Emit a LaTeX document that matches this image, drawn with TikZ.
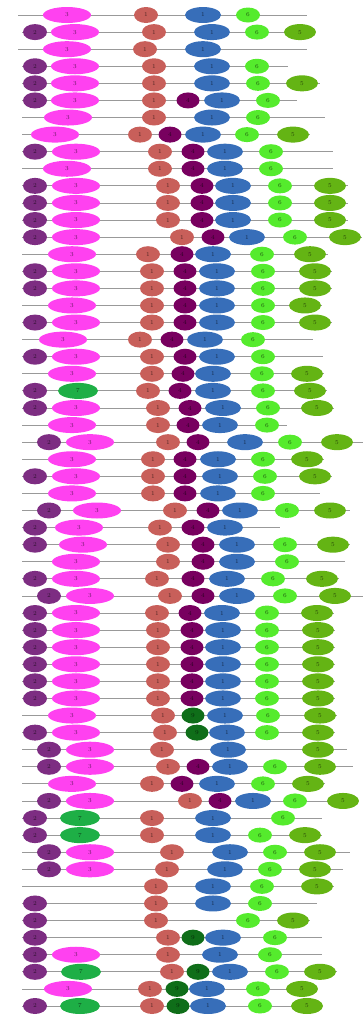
\documentclass[tikz,border=0pt]{standalone}
\usetikzlibrary{shapes.geometric}
\definecolor{cpur}{RGB}{125,45,130}
\definecolor{cmag}{RGB}{255,65,240}
\definecolor{csal}{RGB}{200,95,90}
\definecolor{cdpur}{RGB}{120,0,95}
\definecolor{cblu}{RGB}{55,110,185}
\definecolor{clgr}{RGB}{85,235,45}
\definecolor{coli}{RGB}{100,180,20}
\definecolor{cemer}{RGB}{30,175,70}
\definecolor{cdgr}{RGB}{15,110,25}
\begin{document}
\begin{tikzpicture}[x=1pt,y=-1pt,
    wire/.style={draw=gray!80,line width=0.8pt},
    digit/.style={font=\fontsize{6}{6}\selectfont,inner sep=0pt},
    bead/.style={ellipse,inner sep=0pt,minimum height=16pt},
    pur/.style={bead,fill=cpur,minimum width=24pt,label={[digit,text=cpur!40!black]center:2}},
    mag/.style={bead,fill=cmag,minimum width=48pt,label={[digit,text=cmag!40!black]center:3}},
    sal/.style={bead,fill=csal,minimum width=24pt,label={[digit,text=csal!40!black]center:1}},
    dpur/.style={bead,fill=cdpur,minimum width=23pt,label={[digit,text=cdpur!40!black]center:4}},
    blu/.style={bead,fill=cblu,minimum width=36pt,label={[digit,text=cblu!40!black]center:1}},
    lgr/.style={bead,fill=clgr,minimum width=24pt,minimum height=15pt,label={[digit,text=clgr!40!black]center:6}},
    oli/.style={bead,fill=coli,minimum width=32pt,label={[digit,text=coli!40!black]center:5}},
    emer/.style={bead,fill=cemer,minimum width=40pt,label={[digit,text=cemer!40!black]center:7}},
    dgr/.style={bead,fill=cdgr,minimum width=23pt,label={[digit,text=cdgr!40!black]center:9}}]
  \useasboundingbox (0,0) rectangle (364,1018);

  % ROWS: line start / line end / beads
  \foreach \xs/\xe/\beads [count=\i] in {
    18/307/{mag/67,sal/146,blu/203,lgr/248},
    22/315/{pur/35,mag/75,sal/154,blu/212,lgr/257,oli/300},
    18/307/{mag/67,sal/145,blu/203},
    22/288/{pur/35,mag/75,sal/154,blu/212,lgr/257},
    22/320/{pur/35,mag/75,sal/154,blu/212,lgr/258,oli/302},
    22/297/{pur/35,mag/75,sal/154,dpur/188,blu/222,lgr/268},
    22/325/{mag/68,sal/154,blu/212,lgr/258},
    22/310/{mag/55,sal/140,dpur/170,blu/203,lgr/247,oli/293},
    22/333/{pur/35,mag/76,sal/160,dpur/193,blu/225,lgr/271},
    22/333/{mag/67,sal/160,dpur/193,blu/225,lgr/271},
    22/348/{pur/35,mag/76,sal/168,dpur/202,blu/233,lgr/280,oli/330},
    22/348/{pur/35,mag/76,sal/168,dpur/202,blu/233,lgr/280,oli/330},
    22/348/{pur/35,mag/76,sal/168,dpur/202,blu/233,lgr/280,oli/330},
    22/362/{pur/35,mag/76,sal/182,dpur/213,blu/247,lgr/295,oli/345},
    22/328/{mag/72,sal/148,dpur/182,blu/213,lgr/262,oli/310},
    22/332/{pur/35,mag/76,sal/152,dpur/185,blu/217,lgr/263,oli/315},
    22/332/{pur/35,mag/76,sal/152,dpur/185,blu/217,lgr/263,oli/315},
    22/322/{mag/72,sal/152,dpur/185,blu/217,lgr/263,oli/305},
    22/332/{pur/35,mag/76,sal/152,dpur/185,blu/217,lgr/263,oli/315},
    22/313/{mag/63,sal/140,dpur/172,blu/205,lgr/253},
    22/323/{pur/35,mag/76,sal/152,dpur/185,blu/217,lgr/263},
    22/324/{mag/72,sal/152,dpur/183,blu/213,lgr/262,oli/307},
    22/327/{pur/35,emer/78,sal/148,dpur/180,blu/213,lgr/263,oli/310},
    22/334/{pur/35,mag/76,sal/158,dpur/190,blu/223,lgr/268,oli/317},
    22/287/{mag/72,sal/158,dpur/188,blu/220,lgr/267},
    22/363/{pur/49,mag/90,sal/168,dpur/198,blu/245,lgr/290,oli/337},
    22/324/{mag/72,sal/153,dpur/185,blu/218,lgr/263,oli/307},
    22/332/{pur/35,mag/76,sal/153,dpur/185,blu/220,lgr/265,oli/315},
    22/320/{mag/72,sal/153,dpur/185,blu/218,lgr/263},
    22/350/{pur/49,mag/97,sal/175,dpur/208,blu/240,lgr/287,oli/330},
    22/280/{pur/35,mag/79,sal/160,dpur/193,blu/225},
    22/350/{pur/35,mag/83,sal/168,dpur/203,blu/237,lgr/285,oli/333},
    22/345/{mag/76,sal/168,dpur/203,blu/237,lgr/287},
    22/339/{pur/35,mag/76,sal/157,dpur/193,blu/227,lgr/273,oli/322},
    22/363/{pur/49,mag/90,sal/170,dpur/203,blu/237,lgr/285,oli/335},
    22/334/{pur/35,mag/76,sal/157,dpur/190,blu/222,lgr/267,oli/317},
    22/335/{pur/35,mag/76,sal/158,dpur/192,blu/223,lgr/267,oli/318},
    22/335/{pur/35,mag/76,sal/158,dpur/192,blu/223,lgr/267,oli/318},
    22/335/{pur/35,mag/76,sal/158,dpur/192,blu/223,lgr/267,oli/318},
    22/335/{pur/35,mag/76,sal/158,dpur/192,blu/223,lgr/267,oli/318},
    22/335/{pur/35,mag/76,sal/158,dpur/192,blu/223,lgr/267,oli/318},
    22/337/{mag/72,sal/163,dgr/193,blu/225,lgr/268,oli/320},
    22/335/{pur/35,mag/76,sal/165,dgr/197,blu/227,lgr/267,oli/318},
    22/347/{pur/49,mag/90,sal/162,blu/228,oli/318},
    22/353/{pur/49,mag/90,sal/168,dpur/198,blu/230,lgr/275,oli/320},
    22/325/{mag/72,sal/152,dpur/182,blu/217,lgr/263,oli/308},
    22/358/{pur/49,mag/90,sal/190,dpur/220,blu/253,lgr/295,oli/343},
    22/322/{pur/35,emer/80,sal/152,blu/213,lgr/283},
    22/322/{pur/35,emer/80,sal/152,blu/213,lgr/260,oli/305},
    22/350/{pur/49,mag/90,sal/172,blu/230,lgr/275,oli/320},
    22/343/{pur/49,mag/90,sal/167,blu/225,lgr/270,oli/315},
    22/334/{sal/156,blu/213,lgr/262,oli/317},
    22/317/{pur/35,sal/156,blu/213,lgr/260},
    22/310/{pur/35,sal/156,lgr/248,oli/293},
    22/322/{pur/35,sal/168,dgr/193,blu/223,lgr/275},
    22/322/{pur/35,mag/76,sal/168,blu/220,lgr/270},
    22/337/{pur/35,emer/81,sal/172,dgr/198,blu/230,lgr/277,oli/320},
    22/317/{mag/68,sal/150,dgr/177,blu/207,lgr/258,oli/302},
    22/322/{pur/35,emer/80,sal/152,dgr/178,blu/208,lgr/260,oli/307}}
  {
    \pgfmathsetmacro\y{15+(\i-1)*17.086}
    % line of the row
    \coordinate (r\i-a) at (\xs,\y);
    \coordinate (r\i-z) at (\xe,\y);
    \draw[wire] (r\i-a) -- (r\i-z);
    % beads on it
    \foreach \k/\x in \beads
      \node[\k] (r\i-\k) at (\x,\y) {};
  }
\end{tikzpicture}
\end{document}
